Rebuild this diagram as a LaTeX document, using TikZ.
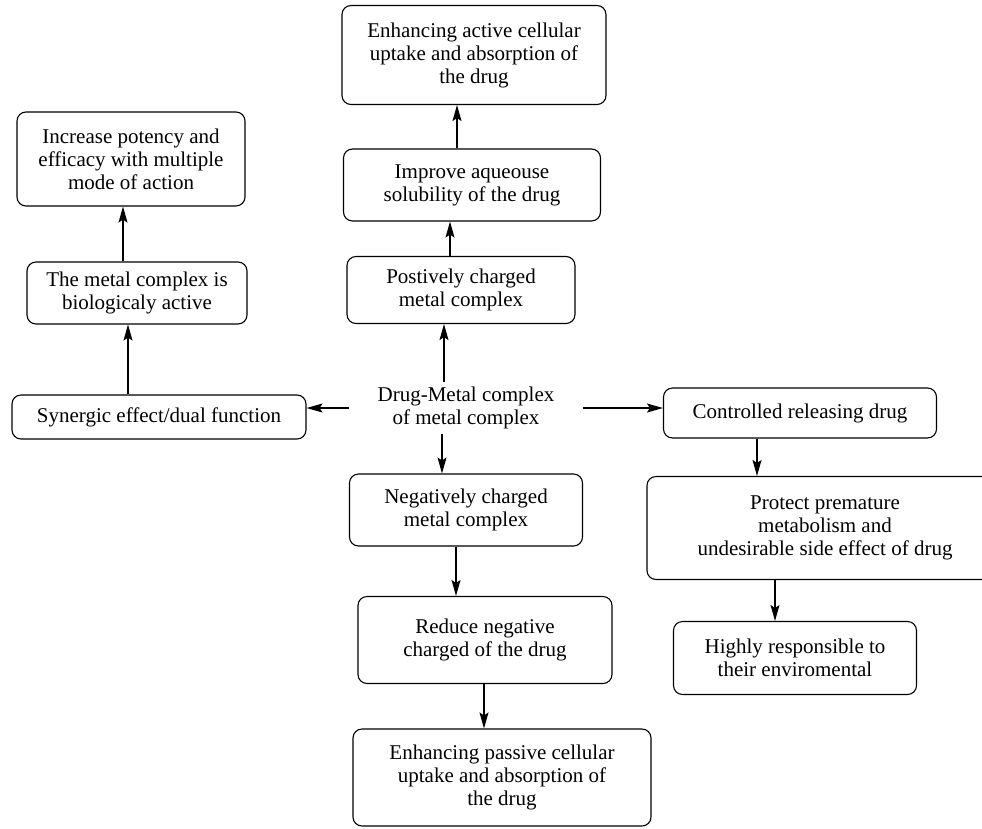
\documentclass[tikz,border=0pt]{standalone}
\usepackage{fontspec}
\setmainfont{Liberation Serif}
\usetikzlibrary{positioning,arrows.meta}

\begin{document}
\begin{tikzpicture}[x=1pt,y=-1pt,
    box/.style={rectangle, draw, rounded corners=9pt, line width=1.1pt, align=center, inner sep=0pt, font=\fontsize{21}{23}\selectfont},
    arr/.style={-{Stealth[length=16pt,width=9pt,inset=3pt]}, line width=1.1pt}]
    \clip (0,0) rectangle (982,828);
    % Nodes
    \node (active) [box, minimum width=264pt, minimum height=99pt] at (474,55) {Enhancing active cellular\\uptake and absorption of\\the drug};
    \node (improve) [box, minimum width=257pt, minimum height=72pt] at (472,185) {Improve aqueouse\\solubility of the drug};
    \node (pos) [box, minimum width=228pt, minimum height=67pt] at (461,290) {Postively charged\\metal complex};
    \node (dm) [rectangle, align=center, inner sep=0pt, minimum width=233pt, minimum height=52pt, font=\fontsize{21}{23}\selectfont] at (466,408) {Drug-Metal complex\\of metal complex};
    \node (increase) [box, minimum width=228pt, minimum height=94pt] at (131,159) {Increase potency and\\efficacy with multiple\\mode of action};
    \node (bioactive) [box, minimum width=220pt, minimum height=62pt] at (137,293) {The metal complex is\\biologicaly active};
    \node (synergic) [box, minimum width=294pt, minimum height=44pt] at (159,417) {Synergic effect/dual function};
    \node (release) [box, minimum width=273pt, minimum height=50pt] at (800,413) {Controlled releasing drug};
    \node (protect) [box, minimum width=356pt, minimum height=103pt] at (825,528) {Protect premature\\metabolism and\\undesirable side effect of drug};
    \node (respond) [box, minimum width=243pt, minimum height=73pt] at (795,658) {Highly responsible to\\their enviromental};
    \node (neg) [box, minimum width=233pt, minimum height=72pt] at (466,510) {Negatively charged\\metal complex};
    \node (reduce) [box, minimum width=254pt, minimum height=87pt] at (485,640) {Reduce negative\\charged of the drug};
    \node (passive) [box, minimum width=298pt, minimum height=97pt] at (502,777.5) {Enhancing passive cellular\\uptake and absorption of\\the drug};
    % Arrows
    \draw [arr] (dm.north -| 444,0) -- (pos.south -| 444,0);
    \draw [arr] (pos.north -| 450,0) -- (improve.south -| 450,0);
    \draw [arr] (improve.north -| 457,0) -- (active.south -| 457,0);
    \draw [arr] (dm.west) -- (synergic.east |- dm.west);
    \draw [arr] (synergic.north -| 128,0) -- (bioactive.south -| 128,0);
    \draw [arr] (bioactive.north -| 123,0) -- (increase.south -| 123,0);
    \draw [arr] (dm.east) -- (release.west |- dm.east);
    \draw [arr] (release.south -| 757,0) -- (protect.north -| 757,0);
    \draw [arr] (protect.south -| 775,0) -- (respond.north -| 775,0);
    \draw [arr] (dm.south -| 442,0) -- (neg.north -| 442,0);
    \draw [arr] (neg.south -| 456,0) -- (reduce.north -| 456,0);
    \draw [arr] (reduce.south -| 484,0) -- (passive.north -| 484,0);
\end{tikzpicture}
\end{document}
